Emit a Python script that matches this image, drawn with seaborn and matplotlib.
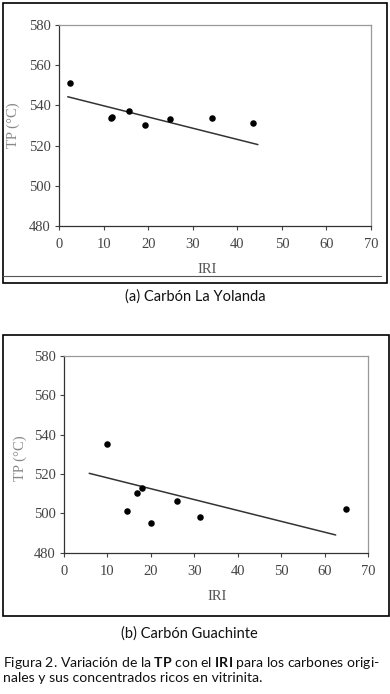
import numpy as np
import pandas as pd
import matplotlib
matplotlib.use("Agg")
import matplotlib.pyplot as plt
from matplotlib.patches import Rectangle
from matplotlib.lines import Line2D
import seaborn as sns

# data
iri_a = [2.4, 11.5, 11.9, 15.6, 19.2, 24.9, 34.4, 43.4]
tp_a = [551, 533.5, 534.3, 537.3, 530.3, 533.4, 533.5, 531.3]
fit_x_a = [1.9, 44.6]
fit_y_a = [544.3, 520.5]

iri_b = [10.0, 14.4, 16.8, 17.9, 19.9, 26.0, 31.3, 64.8]
tp_b = [535, 501.2, 510.1, 513, 495.2, 506.3, 498, 502.2]
fit_x_b = [5.8, 62.5]
fit_y_b = [520.3, 489]

xticks = [0, 10, 20, 30, 40, 50, 60, 70]
yticks = [480, 500, 520, 540, 560, 580]

cap_a = "(a) Carbón La Yolanda"
cap_b = "(b) Carbón Guachinte"
fig_caption = ("Figura 2. Variación de la $\\mathbf{TP}$ con el $\\mathbf{IRI}$ para los carbones origi-\n"
               "nales y sus concentrados ricos en vitrinita.")

sns.set_style("white")
plt.rcParams['font.family'] = ['Liberation Serif', 'DejaVu Serif']
plt.rcParams['mathtext.fontset'] = 'custom'
plt.rcParams['mathtext.bf'] = 'Lato:bold'
plt.rcParams['mathtext.rm'] = 'Lato'

W, H = 390, 694
fig = plt.figure(figsize=(W / 100, H / 100), dpi=100)


def fx(px):
    return px / W


def fy(py):
    return 1 - py / H


def panel(l, t, r, b, x, y, fx_, fy_):
    ax = fig.add_axes([fx(l), fy(b), fx(r) - fx(l), fy(t) - fy(b)])
    df = pd.DataFrame({'IRI': x, 'TP': y})
    ax.plot(fx_, fy_, color='#333333', lw=1.1, zorder=2)
    sns.scatterplot(data=df, x='IRI', y='TP', ax=ax, color='black',
                    s=22, edgecolor='black', linewidth=0, zorder=3)
    ax.set_xlim(0, 70)
    ax.set_ylim(480, 580)
    ax.set_xticks(xticks)
    ax.set_yticks(yticks)
    ax.tick_params(direction='out', length=3, width=0.8, colors='#444444',
                   labelsize=10.5, bottom=True, left=True, pad=3)
    ax.tick_params(axis='x', pad=6)
    ax.set_xlabel('')
    ax.set_ylabel('')
    for s in ['left', 'bottom']:
        ax.spines[s].set_color('#333333')
        ax.spines[s].set_linewidth(0.9)
    for s in ['top', 'right']:
        ax.spines[s].set_color('#999999')
        ax.spines[s].set_linewidth(0.9)
    return ax


ax_a = panel(59.3, 25, 371, 226, iri_a, tp_a, fit_x_a, fit_y_a)
ax_b = panel(64, 355.7, 368.3, 552.7, iri_b, tp_b, fit_x_b, fit_y_b)

# axis titles
fig.text(fx(13), fy(125), 'TP (°C)', rotation=90, ha='center', va='center',
         fontsize=10.5, color='#888888')
fig.text(fx(207), fy(270), 'IRI', ha='center', va='center',
         fontsize=10.5, color='#555555')
fig.text(fx(20), fy(458), 'TP (°C)', rotation=90, ha='center', va='center',
         fontsize=10.5, color='#888888')
fig.text(fx(217), fy(597), 'IRI', ha='center', va='center',
         fontsize=10.5, color='#555555')

# frames around panels
fig.patches.append(Rectangle((fx(2.7), fy(283)), fx(386.7) - fx(2.7), fy(2.7) - fy(283),
                             transform=fig.transFigure, fill=False, ec='black', lw=1.2))
fig.lines.append(Line2D([fx(2.7), fx(381)], [fy(276), fy(276)],
                        transform=fig.transFigure, color='#555555', lw=0.8))
fig.patches.append(Rectangle((fx(2.7), fy(616)), fx(389) - fx(2.7), fy(335) - fy(616),
                             transform=fig.transFigure, fill=False, ec='black', lw=1.2))

# captions
cap_font = ['Lato', 'DejaVu Sans']
fig.text(fx(195), fy(297), cap_a, ha='center', va='center', fontsize=10.5,
         family=cap_font, color='#111111')
fig.text(fx(189.5), fy(634), cap_b, ha='center', va='center', fontsize=10.5,
         family=cap_font, color='#111111')
fig.text(fx(3), fy(655), fig_caption, ha='left', va='top', fontsize=10.1,
         family=cap_font, color='#111111', linespacing=1.1)

fig.savefig('out.png', dpi=100)
